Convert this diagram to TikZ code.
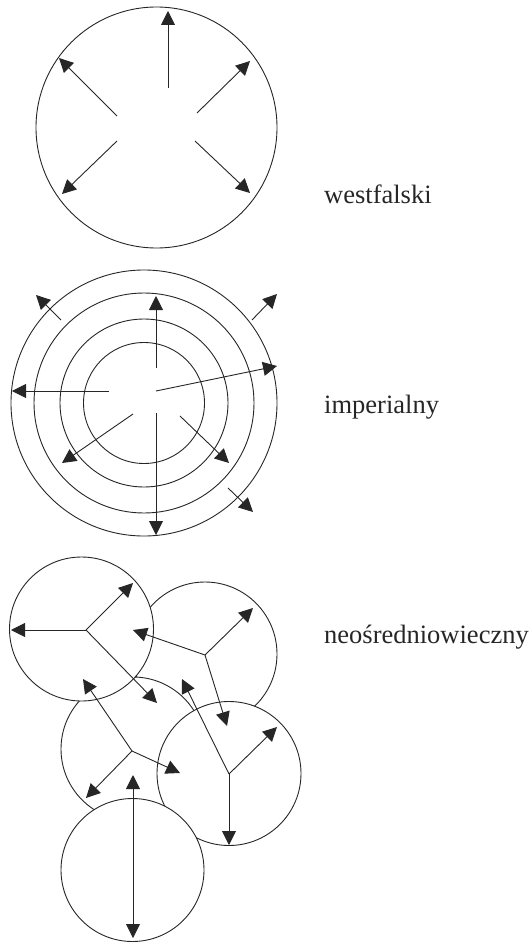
\documentclass[tikz,border=0pt]{standalone}
\usepackage{fontspec}
\setmainfont{Liberation Serif}
\usetikzlibrary{arrows.meta}
\begin{document}
\begin{tikzpicture}[x=1pt,y=-1pt,
  circ/.style={draw=black!85,line width=0.9pt,fill=white},
  arr/.style={draw=black!85,line width=0.9pt,-{Triangle[length=14pt,width=14pt]}},
  darr/.style={draw=black!85,line width=0.9pt,{Triangle[length=14pt,width=14pt]}-{Triangle[length=14pt,width=14pt]}},
  lbl/.style={anchor=base west,inner sep=0pt,font=\fontsize{26.5}{30}\selectfont,text=black!85}]
\useasboundingbox (0,0) rectangle (530,942);
% ---------- westfalski ----------
\coordinate (w) at (156.5,127.5);
\draw[circ] (w) circle[radius=120.5];
\coordinate (w1s) at (168,88);  \coordinate (w1e) at (168,11);
\coordinate (w2s) at (117,116); \coordinate (w2e) at (59,58);
\coordinate (w3s) at (197,113); \coordinate (w3e) at (250,61);
\coordinate (w4s) at (117,141); \coordinate (w4e) at (62,194);
\coordinate (w5s) at (195,141); \coordinate (w5e) at (250,193);
\foreach \i in {1,...,5} \draw[arr] (w\i s) -- (w\i e);
\node[lbl] (tw) at (324,203) {westfalski};
% ---------- imperialny ----------
\coordinate (m) at (144,403);
\foreach \r in {133,110,84,60.5} \draw[circ,fill=none] (m) circle[radius=\r];
\coordinate (m1s) at (156,368); \coordinate (m1e) at (156,296);
\coordinate (m2s) at (109,391); \coordinate (m2e) at (12,391);
\coordinate (m3s) at (156,391); \coordinate (m3e) at (277,366);
\coordinate (m4s) at (156,413); \coordinate (m4e) at (156,535);
\coordinate (m5s) at (133,414); \coordinate (m5e) at (62,463);
\coordinate (m6s) at (180,416); \coordinate (m6e) at (229,463);
\coordinate (m7s) at (61,320);  \coordinate (m7e) at (36,295);
\coordinate (m8s) at (252,320); \coordinate (m8e) at (277,294);
\coordinate (m9s) at (228,488); \coordinate (m9e) at (253,512);
\foreach \i in {1,...,9} \draw[arr] (m\i s) -- (m\i e);
\node[lbl] (ti) at (324,413) {imperialny};
% ---------- neosredniowieczny ----------
\coordinate (cB) at (205,654);
\coordinate (cC) at (133,749);
\coordinate (cE) at (229,773.5);
\coordinate (cA) at (81.5,629);
\coordinate (cD) at (132.5,870);
\draw[circ] (cB) circle[radius=72];
\draw[circ] (cC) circle[radius=72];
\draw[circ] (cE) circle[radius=72];
\draw[circ] (cA) circle[radius=72];
\draw[circ] (cD) circle[radius=71.5];
% junctions
\coordinate (jA) at (86,630);
\coordinate (jB) at (205,655);
\coordinate (jC) at (132,751);
\coordinate (jE) at (229,774);
\coordinate (a1) at (11,630);  \coordinate (a2) at (133,583); \coordinate (a3) at (157,703);
\coordinate (b1) at (253,608); \coordinate (b2) at (133,630); \coordinate (b3) at (227,726);
\coordinate (c1) at (83,679);  \coordinate (c2) at (180,773); \coordinate (c3) at (86,798);
\coordinate (e1) at (182,679); \coordinate (e2) at (277,727); \coordinate (e3) at (229,845);
\foreach \i in {1,2,3} {
  \draw[arr] (jA) -- (a\i);
  \draw[arr] (jB) -- (b\i);
  \draw[arr] (jC) -- (c\i);
  \draw[arr] (jE) -- (e\i);
}
\coordinate (d1) at (133,775); \coordinate (d2) at (133,938);
\draw[darr] (d1) -- (d2);
\node[lbl] (tn) at (324,643) {neośredniowieczny};
\end{tikzpicture}
\end{document}
